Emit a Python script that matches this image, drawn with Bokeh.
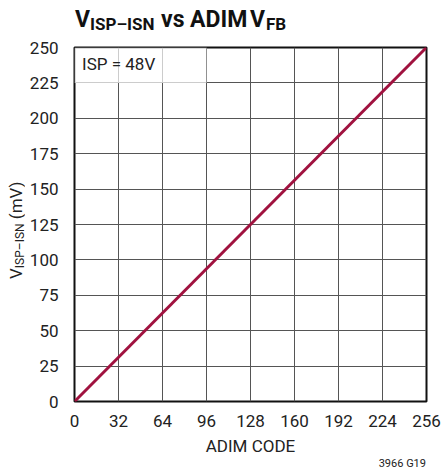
from bokeh.plotting import figure
from bokeh.models import Label, Range1d, FixedTicker, Div
from bokeh.layouts import column, row
from bokeh.embed import file_html
from bokeh.resources import INLINE

# data
adim_code = [0, 256]
v_isp_isn = [0, 250]
x_ticks = [0, 32, 64, 96, 128, 160, 192, 224, 256]
y_ticks = [0, 25, 50, 75, 100, 125, 150, 175, 200, 225, 250]
box_x = [0, 96]
box_y = [225, 250]
note_text = "ISP = 48V"
title_parts = ["V", "ISP\u2013ISN", "vs", "ADIM", "V", "FB"]
ylabel_parts = ["V", "ISP\u2013ISN", "(mV)"]
xlabel_text = "ADIM CODE"
code_text = "3966 G19"

FONT = "Roboto"
PAGE_W = 441
TITLE_H = 34
CODE_H = 12
YLAB_W = 24
FIG_W = PAGE_W - YLAB_W
FIG_H = 472 - TITLE_H - CODE_H
FL, FR, FT, FB = 74, 426, 47, 401  # frame edges in page pixels

p = figure(width=FIG_W, height=FIG_H, output_backend="svg", toolbar_location=None,
           x_range=Range1d(0, 256), y_range=Range1d(0, 250),
           min_border_left=FL - YLAB_W, min_border_right=PAGE_W - FR,
           min_border_top=FT - TITLE_H, min_border_bottom=TITLE_H + FIG_H - FB, margin=0)
p.background_fill_color = "white"
p.border_fill_color = "white"
p.outline_line_color = "#111111"
p.outline_line_width = 2

for ax in (p.xaxis, p.yaxis):
    ax.axis_line_color = None
    ax.major_tick_line_color = None
    ax.minor_tick_line_color = None
    ax.major_label_text_font = FONT
    ax.major_label_text_font_size = "17px"
    ax.major_label_text_color = "#222222"
p.xaxis.ticker = FixedTicker(ticks=x_ticks)
p.yaxis.ticker = FixedTicker(ticks=y_ticks)
p.xaxis.major_label_standoff = 7
p.yaxis.major_label_standoff = 10
p.xaxis.axis_label = xlabel_text
p.xaxis.axis_label_text_font = FONT
p.xaxis.axis_label_text_font_size = "17px"
p.xaxis.axis_label_text_font_style = "normal"
p.xaxis.axis_label_text_color = "#222222"
p.xaxis.axis_label_standoff = 6

p.grid.grid_line_color = "#555555"
p.grid.grid_line_width = 1
p.xgrid.ticker = FixedTicker(ticks=x_ticks)
p.ygrid.ticker = FixedTicker(ticks=y_ticks)

# label box (lightens grid)
p.quad(left=[box_x[0]], right=[box_x[1]], bottom=[box_y[0]], top=[box_y[1]],
       fill_color="white", fill_alpha=0.7, line_color=None)

p.line(adim_code, v_isp_isn, line_color="#A0123F", line_width=3)

p.add_layout(Label(x=5.5, y=238, text=note_text, text_font=FONT, text_font_size="17px",
                   text_color="#222222", text_baseline="middle"))

# ---- title (HTML, with subscripts) ----
def span(left, baseline, size, text):
    top = baseline - 0.842 * size
    return (f'<span style="position:absolute;left:{left}px;top:{top:.1f}px;'
            f'font-size:{size}px">{text}</span>')

t = title_parts
title_html = (
    f'<div style="position:relative;width:{PAGE_W}px;height:{TITLE_H}px;font-family:Roboto;'
    'font-weight:bold;color:#111111;line-height:1;white-space:nowrap">'
    + span(75, 27, 23, t[0]) + span(90, 30, 17, t[1]) + span(161, 27, 23, t[2])
    + span(190, 27, 23, t[3]) + span(250, 27, 23, t[4]) + span(266, 30, 17, t[5])
    + '</div>'
)
title_div = Div(text=title_html, width=PAGE_W, height=TITLE_H, margin=0)

# ---- rotated y-axis label ----
yl = ylabel_parts
ylab_top = 279 - TITLE_H
ylab_html = (
    f'<div style="position:relative;width:{YLAB_W}px;height:{FIG_H}px;font-family:Roboto;'
    'color:#222222;line-height:1;white-space:nowrap">'
    f'<span style="position:absolute;left:7.7px;top:{ylab_top}px;font-size:17px;'
    'transform:rotate(-90deg);transform-origin:0 0">'
    f'{yl[0]}<span style="font-size:12px;position:relative;top:2px">{yl[1]}</span> {yl[2]}'
    '</span></div>'
)
ylab_div = Div(text=ylab_html, width=YLAB_W, height=FIG_H, margin=0)

# ---- figure code ----
code_html = (
    f'<div style="position:relative;width:{PAGE_W}px;height:{CODE_H}px;font-family:Roboto;'
    'color:#222222;line-height:1;white-space:nowrap">'
    f'<span style="position:absolute;right:{PAGE_W - 426}px;top:{(467 - 472 + CODE_H) - 0.842 * 11:.1f}px;'
    f'font-size:11px">{code_text}</span></div>'
)
code_div = Div(text=code_html, width=PAGE_W, height=CODE_H, margin=0)

layout = column(title_div, row(ylab_div, p, spacing=0), code_div, spacing=0)

open("out.html", "w").write(file_html(layout, INLINE))
